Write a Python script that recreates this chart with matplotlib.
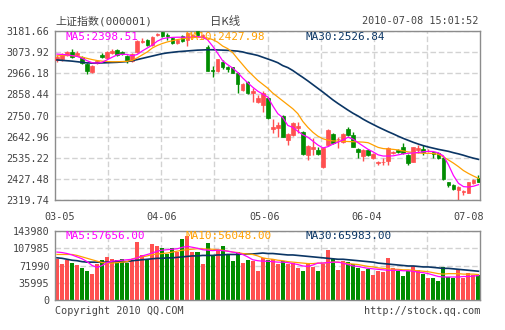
import matplotlib
matplotlib.use('Agg')
import matplotlib.pyplot as plt
import matplotlib.transforms as mtransforms

# daily K line, 2010-03-05 .. 2010-07-08 (85 sessions)
opens = [3032, 3039, 3058, 3075, 3061, 3049, 3013, 2971, 3020, 3061,
         3044, 3070, 3085, 3074, 3053, 3030, 3075, 3126, 3137, 3112,
         3161, 3177, 3162, 3146, 3120, 3155, 3137, 3156, 3180, 3151,
         3100, 2984, 2979, 3022, 2996, 2996, 2969, 2881, 2920, 2867,
         2821, 2804, 2840, 2682, 2685, 2750, 2626, 2651, 2685, 2668,
         2549, 2580, 2575, 2490, 2600, 2656, 2630, 2617, 2682, 2651,
         2580, 2544, 2575, 2532, 2507, 2514, 2519, 2561, 2575, 2592,
         2549, 2515, 2575, 2580, 2570, 2563, 2558, 2534, 2410, 2396,
         2371, 2362, 2357, 2405, 2434]
highs = [3058, 3072, 3081, 3091, 3078, 3056, 3018, 3008, 3036, 3068,
         3078, 3091, 3090, 3079, 3058, 3070, 3138, 3146, 3142, 3156,
         3171, 3181, 3169, 3150, 3142, 3160, 3176, 3168, 3181, 3166,
         3108, 3003, 3041, 3032, 3001, 3000, 2972, 2915, 2925, 2891,
         2855, 2878, 2845, 2733, 2719, 2755, 2660, 2715, 2719, 2672,
         2601, 2634, 2592, 2588, 2681, 2660, 2643, 2660, 2692, 2668,
         2585, 2580, 2580, 2559, 2520, 2534, 2592, 2569, 2580, 2609,
         2554, 2592, 2600, 2600, 2578, 2567, 2562, 2538, 2413, 2400,
         2391, 2372, 2414, 2426, 2447]
lows = [3022, 3030, 3052, 3044, 3055, 3012, 2964, 2965, 3012, 3043,
        3040, 3066, 3056, 3060, 3020, 3025, 3072, 3120, 3107, 3105,
        3155, 3150, 3137, 3115, 3115, 3124, 3104, 3150, 3155, 3146,
        2976, 2946, 2975, 2988, 2971, 2965, 2867, 2876, 2862, 2821,
        2813, 2770, 2735, 2661, 2639, 2640, 2600, 2647, 2660, 2550,
        2524, 2549, 2549, 2481, 2596, 2604, 2583, 2612, 2646, 2589,
        2532, 2520, 2545, 2528, 2498, 2498, 2498, 2556, 2561, 2554,
        2498, 2511, 2560, 2549, 2565, 2532, 2528, 2421, 2388, 2370,
        2320, 2345, 2353, 2400, 2409]
closes = [3050, 3061, 3075, 3049, 3069, 3017, 2979, 3002, 3030, 3048,
          3074, 3081, 3061, 3064, 3027, 3064, 3133, 3132, 3112, 3151,
          3164, 3155, 3154, 3120, 3137, 3129, 3171, 3161, 3163, 3160,
          2979, 2979, 3039, 3000, 2988, 2969, 2910, 2910, 2867, 2877,
          2838, 2863, 2738, 2694, 2702, 2643, 2656, 2711, 2697, 2554,
          2597, 2592, 2554, 2583, 2677, 2609, 2633, 2656, 2651, 2592,
          2566, 2575, 2549, 2554, 2515, 2516, 2583, 2564, 2566, 2558,
          2510, 2588, 2586, 2566, 2572, 2553, 2532, 2425, 2396, 2374,
          2384, 2367, 2410, 2422, 2413]

ma5 = [3064, 3062, 3060, 3056, 3052, 3043, 3030, 3020, 3018, 3022, 3035, 3048, 3060, 3063, 3062, 3055,
       3062, 3080, 3095, 3110, 3130, 3142, 3147, 3149, 3150, 3150, 3150, 3152, 3153, 3150, 3137, 3105,
       3069, 3030, 3010, 2993, 2970, 2942, 2918, 2895, 2875, 2860, 2845, 2800, 2760, 2740, 2700, 2690,
       2670, 2652, 2640, 2620, 2600, 2585, 2592, 2605, 2615, 2626, 2640, 2630, 2612, 2595, 2578, 2565,
       2550, 2544, 2544, 2545, 2550, 2555, 2558, 2560, 2562, 2566, 2568, 2567, 2560, 2545, 2500, 2445,
       2405, 2388, 2386, 2390, 2398]
ma10 = [3055, 3056, 3057, 3056, 3053, 3048, 3042, 3036, 3031, 3028, 3026, 3025, 3025, 3026, 3027, 3032,
        3045, 3060, 3075, 3095, 3108, 3118, 3126, 3132, 3138, 3142, 3146, 3148, 3150, 3149, 3146, 3138,
        3125, 3105, 3092, 3072, 3040, 3010, 2980, 2955, 2930, 2910, 2890, 2865, 2845, 2825, 2805, 2785,
        2760, 2720, 2690, 2665, 2645, 2632, 2625, 2621, 2620, 2619, 2618, 2617, 2616, 2615, 2612, 2600,
        2588, 2582, 2580, 2578, 2575, 2570, 2565, 2562, 2560, 2558, 2558, 2557, 2553, 2540, 2524, 2508,
        2490, 2470, 2455, 2442, 2430]
ma30 = [3034, 3032, 3030, 3028, 3025, 3022, 3019, 3018, 3018, 3019, 3020, 3021, 3022, 3024, 3026, 3030,
        3036, 3042, 3048, 3054, 3060, 3066, 3070, 3073, 3076, 3078, 3080, 3082, 3084, 3085, 3086, 3086,
        3085, 3084, 3083, 3081, 3079, 3075, 3068, 3063, 3057, 3048, 3039, 3030, 3020, 3005, 2995, 2980,
        2962, 2945, 2927, 2908, 2889, 2870, 2850, 2830, 2812, 2795, 2778, 2762, 2748, 2732, 2718, 2705,
        2692, 2680, 2668, 2657, 2645, 2634, 2624, 2614, 2605, 2597, 2590, 2584, 2578, 2573, 2568, 2561,
        2555, 2548, 2540, 2533, 2527]

volume = [86500, 76100, 83800, 77500, 73400, 67800, 59500, 54700, 75400, 83800,
          90000, 85800, 84500, 85800, 77500, 83100, 121800, 93400, 84500, 117700,
          112100, 108700, 96900, 109400, 99700, 128100, 133600, 99700, 99700, 76100,
          119100, 93400, 105200, 112800, 96900, 82400, 99700, 78200, 83800, 82000,
          61000, 88000, 83500, 85600, 75000, 80700, 75000, 78200, 67400, 61000,
          78000, 69600, 60500, 76000, 104000, 86000, 62600, 80900, 80000, 75000,
          67400, 60500, 64700, 52200, 61000, 57700, 88000, 67400, 61000, 50000,
          61000, 71600, 62600, 54300, 46600, 46600, 40300, 69600, 47300, 46600,
          62600, 45200, 56400, 52200, 51500]
vol_ma5 = [100, 99, 97, 94, 90, 86, 80, 72, 68, 72, 78, 81, 82, 83, 84, 85,
           88, 92, 95, 98, 102, 104, 105, 106, 107, 110, 112, 110, 108, 105, 104, 103,
           104, 103, 102, 100, 98, 95, 90, 84, 82, 81, 81, 80, 79, 79, 78, 76,
           74, 71, 70, 73, 77, 77, 78, 79, 79, 77, 74, 71, 70, 68, 66, 65,
           64, 63, 62, 62, 62, 61, 61, 60, 58, 57, 55, 52, 49, 48, 48, 48,
           48, 49, 49, 50, 51]
vol_ma10 = [95, 95, 95, 95, 93, 90, 87, 84, 81, 78, 77, 77, 78, 79, 80, 86,
            88, 90, 92, 95, 96, 97, 98, 100, 102, 104, 105, 106, 107, 107, 106, 106,
            105, 104, 102, 100, 99, 97, 96, 95, 92, 88, 86, 85, 83, 82, 80, 79,
            78, 77, 76, 76, 77, 77, 78, 79, 79, 78, 76, 75, 74, 72, 70, 69,
            67, 66, 65, 64, 64, 63, 63, 62, 61, 60, 59, 57, 55, 54, 55, 55,
            55, 54, 54, 54, 53]
vol_ma30 = [88, 87, 85, 83, 82, 80, 79, 79, 79, 79, 79, 80, 80, 80, 80, 82,
            83, 84, 85, 86, 87, 87, 88, 88, 89, 90, 91, 92, 92, 93, 93, 93,
            94, 94, 95, 95, 95, 96, 96, 96, 97, 98, 97, 97, 96, 95, 94, 94,
            93, 92, 91, 90, 89, 88, 87, 86, 85, 85, 84, 83, 82, 81, 80, 79,
            77, 76, 75, 74, 73, 72, 71, 71, 70, 69, 69, 68, 67, 66, 66, 65,
            64, 63, 62, 61, 60]

price_ticks = [2319.74, 2427.48, 2535.22, 2642.96, 2750.70, 2858.44, 2966.18, 3073.92, 3181.66]
vol_ticks = [0, 35995, 71990, 107985, 143980]
date_idx = [0, 21, 42, 63, 84]
date_labels = ['03-05', '04-06', '05-06', '06-04', '07-08']

RED = '#ff5050'
GREEN = '#008c00'
C5, C10, C30 = '#ff00ff', '#ffa000', '#0a3564'
GRID = '#d2d2d2'
TXT = '#444444'
MONO = ['DejaVu Sans Mono', 'Noto Sans CJK SC']
FS = 7.3

x = list(range(len(closes)))
colors = [RED if c >= o else GREEN for o, c in zip(opens, closes)]

fig = plt.figure(figsize=(5.05, 3.30), dpi=100)
ax = fig.add_axes([55 / 505, 130 / 330, 425 / 505, 169 / 330])
axv = fig.add_axes([55 / 505, 30 / 330, 425 / 505, 69 / 330])

xmin, xmax = -0.4, 84.3


def style(a, yticks, ylabels):
    a.set_xlim(xmin, xmax)
    a.set_ylim(yticks[0], yticks[-1])
    a.set_yticks(yticks)
    a.set_yticklabels(ylabels, family=MONO, fontsize=FS, color=TXT)
    a.tick_params(axis='both', length=0)
    a.tick_params(axis='y', pad=4)
    for s in a.spines.values():
        s.set_color('#8c8c8c')
        s.set_linewidth(1)
    a.set_axisbelow(True)
    a.grid(axis='y', color=GRID, linestyle=(0, (4, 2)), linewidth=1)
    for i in range(1, 8):
        a.axvline(xmin + i * (xmax - xmin) / 8, color=GRID, linestyle=(0, (4, 2)),
                  linewidth=1, zorder=0)


# price panel
ax.vlines(x, lows, highs, colors=colors, linewidth=1, zorder=2)
ax.bar(x, [abs(c - o) for o, c in zip(opens, closes)],
       bottom=[min(o, c) for o, c in zip(opens, closes)],
       width=0.72, color=colors, edgecolor=colors, linewidth=0.5, zorder=3)
ax.plot(x, ma30, color=C30, linewidth=1.2, zorder=4)
ax.plot(x, ma10, color=C10, linewidth=0.9, zorder=4)
ax.plot(x, ma5, color=C5, linewidth=0.9, zorder=4)
style(ax, price_ticks, ['%.2f' % v for v in price_ticks])
ax.set_xticks(date_idx)
ax.set_xticklabels(date_labels, family=MONO, fontsize=FS, color=TXT)
ax.tick_params(axis='x', pad=9)
for lab, dx in zip(ax.get_xticklabels(), [2.5, -1, -3.3, -6.5, -10]):
    lab.set_transform(lab.get_transform() + mtransforms.ScaledTranslation(dx / 100, 0, fig.dpi_scale_trans))

ax.text((65 - 55) / 425, 0.964, 'MA5:2398.51', color=C5, family=MONO, fontsize=FS + 0.6,
        transform=ax.transAxes, va='center', zorder=5)
ax.text((185 - 55) / 425, 0.964, 'MA10:2427.98', color=C10, family=MONO, fontsize=FS + 0.6,
        transform=ax.transAxes, va='center', zorder=5)
ax.text((305 - 55) / 425, 0.964, 'MA30:2526.84', color=C30, family=MONO, fontsize=FS + 0.6,
        transform=ax.transAxes, va='center', zorder=5)

# volume panel
axv.bar(x, volume, width=0.8, color=colors, linewidth=0, zorder=2)
axv.plot(x, [v * 1000 for v in vol_ma30], color=C30, linewidth=1.2, zorder=4)
axv.plot(x, [v * 1000 for v in vol_ma10], color=C10, linewidth=0.9, zorder=4)
axv.plot(x, [v * 1000 for v in vol_ma5], color=C5, linewidth=0.9, zorder=4)
style(axv, vol_ticks, [str(v) for v in vol_ticks])
axv.set_xticks([])

axv.text((65 - 55) / 425, 0.925, 'MA5:57656.00', color=C5, family=MONO, fontsize=FS + 0.6,
         transform=axv.transAxes, va='center', zorder=5)
axv.text((185 - 55) / 425, 0.925, 'MA10:56048.00', color=C10, family=MONO, fontsize=FS + 0.6,
         transform=axv.transAxes, va='center', zorder=5)
axv.text((305 - 55) / 425, 0.925, 'MA30:65983.00', color=C30, family=MONO, fontsize=FS + 0.6,
         transform=axv.transAxes, va='center', zorder=5)

# header and footer
fig.text(55 / 505, 1 - 21.5 / 330, '上证指数(000001)', family=MONO,
         fontsize=7.9, color=TXT, va='center', ha='left')
fig.text(225 / 505, 1 - 21.5 / 330, '日K线', family=['Noto Sans CJK SC', 'DejaVu Sans'],
         fontsize=8.2, color=TXT, va='center', ha='center')
fig.text(478 / 505, 1 - 21.5 / 330, '2010-07-08 15:01:52', family=MONO,
         fontsize=FS, color=TXT, va='center', ha='right')
fig.text(55 / 505, 1 - 311.5 / 330, 'Copyright 2010 QQ.COM', family=MONO,
         fontsize=FS, color=TXT, va='center', ha='left')
fig.text(480 / 505, 1 - 311.5 / 330, 'http://stock.qq.com', family=MONO,
         fontsize=FS, color=TXT, va='center', ha='right')

fig.savefig('out.png', dpi=100, facecolor='white')
